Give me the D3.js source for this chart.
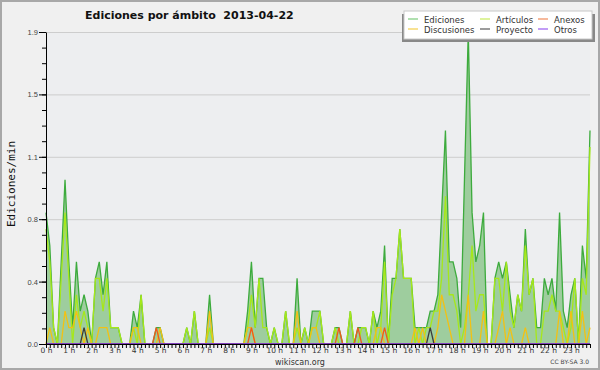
<!DOCTYPE html>
<html>
<head>
<meta charset="utf-8">
<script src="https://cdnjs.cloudflare.com/ajax/libs/d3/7.8.5/d3.min.js"></script>
<style>
body { margin: 0; background: #fff; }
svg { display: block; font-family: "DejaVu Sans", sans-serif; }
</style>
</head>
<body>
<svg width="600" height="370"></svg>
<script>
//edits per minute, one value every 10 minutes (0h00 .. 23h50), two hours per row
var ediciones = [
    0.8, 0.6, 0.1, 0.0, 0.5, 1.0,   0.5, 0.1, 0.5, 0.2, 0.3, 0.2,
    0.0, 0.4, 0.5, 0.3, 0.5, 0.1,   0.1, 0.1, 0.0, 0.0, 0.0, 0.2,
    0.1, 0.3, 0.0, 0.0, 0.0, 0.1,   0.1, 0.0, 0.0, 0.0, 0.0, 0.0,
    0.0, 0.1, 0.0, 0.2, 0.0, 0.0,   0.0, 0.3, 0.0, 0.0, 0.0, 0.0,
    0.0, 0.0, 0.0, 0.0, 0.0, 0.2,   0.5, 0.1, 0.4, 0.4, 0.1, 0.0,
    0.1, 0.0, 0.0, 0.2, 0.0, 0.0,   0.4, 0.0, 0.1, 0.0, 0.2, 0.2,
    0.2, 0.0, 0.0, 0.0, 0.1, 0.1,   0.0, 0.0, 0.2, 0.0, 0.1, 0.1,
    0.1, 0.0, 0.2, 0.1, 0.2, 0.6,   0.0, 0.4, 0.4, 0.7, 0.4, 0.4,
    0.4, 0.1, 0.1, 0.1, 0.1, 0.2,   0.2, 0.3, 0.8, 1.3, 0.5, 0.5,
    0.4, 0.1, 1.0, 1.9, 0.8, 0.5,   0.6, 0.8, 0.0, 0.0, 0.4, 0.5,
    0.4, 0.5, 0.3, 0.1, 0.3, 0.2,   0.7, 0.3, 0.4, 0.1, 0.1, 0.4,
    0.3, 0.4, 0.2, 0.8, 0.2, 0.1,   0.3, 0.4, 0.0, 0.6, 0.4, 1.3
];
var articulos = [
    0.7, 0.5, 0.1, 0.0, 0.4, 0.8,   0.4, 0.0, 0.3, 0.1, 0.2, 0.1,
    0.0, 0.4, 0.4, 0.2, 0.4, 0.1,   0.1, 0.1, 0.0, 0.0, 0.0, 0.1,
    0.0, 0.3, 0.0, 0.0, 0.0, 0.0,   0.0, 0.0, 0.0, 0.0, 0.0, 0.0,
    0.0, 0.1, 0.0, 0.2, 0.0, 0.0,   0.0, 0.1, 0.0, 0.0, 0.0, 0.0,
    0.0, 0.0, 0.0, 0.0, 0.0, 0.1,   0.3, 0.1, 0.4, 0.1, 0.1, 0.0,
    0.1, 0.0, 0.0, 0.2, 0.0, 0.0,   0.1, 0.0, 0.1, 0.0, 0.1, 0.1,
    0.2, 0.0, 0.0, 0.0, 0.1, 0.0,   0.0, 0.0, 0.2, 0.0, 0.0, 0.1,
    0.1, 0.0, 0.2, 0.0, 0.1, 0.5,   0.0, 0.3, 0.4, 0.7, 0.4, 0.4,
    0.4, 0.0, 0.1, 0.0, 0.1, 0.1,   0.2, 0.2, 0.4, 0.9, 0.3, 0.3,
    0.2, 0.0, 0.1, 0.3, 0.6, 0.2,   0.3, 0.3, 0.0, 0.0, 0.4, 0.4,
    0.2, 0.5, 0.2, 0.1, 0.3, 0.2,   0.6, 0.3, 0.4, 0.0, 0.0, 0.2,
    0.2, 0.3, 0.2, 0.2, 0.1, 0.0,   0.1, 0.4, 0.0, 0.4, 0.3, 1.2
];
var discusiones = [
    0.0, 0.1, 0.0, 0.0, 0.0, 0.2,   0.1, 0.1, 0.2, 0.1, 0.0, 0.1,
    0.0, 0.0, 0.1, 0.1, 0.1, 0.0,   0.0, 0.0, 0.0, 0.0, 0.0, 0.1,
    0.1, 0.0, 0.0, 0.0, 0.0, 0.0,   0.1, 0.0, 0.0, 0.0, 0.0, 0.0,
    0.0, 0.0, 0.0, 0.0, 0.0, 0.0,   0.0, 0.2, 0.0, 0.0, 0.0, 0.0,
    0.0, 0.0, 0.0, 0.0, 0.0, 0.1,   0.1, 0.0, 0.0, 0.0, 0.0, 0.0,
    0.0, 0.0, 0.0, 0.0, 0.0, 0.0,   0.2, 0.0, 0.0, 0.0, 0.1, 0.1,
    0.0, 0.0, 0.0, 0.0, 0.0, 0.0,   0.0, 0.0, 0.0, 0.0, 0.0, 0.0,
    0.0, 0.0, 0.0, 0.1, 0.1, 0.0,   0.0, 0.0, 0.0, 0.0, 0.0, 0.0,
    0.0, 0.1, 0.0, 0.1, 0.0, 0.0,   0.0, 0.1, 0.3, 0.2, 0.1, 0.0,
    0.0, 0.0, 0.0, 0.3, 0.0, 0.0,   0.0, 0.2, 0.0, 0.0, 0.0, 0.1,
    0.2, 0.0, 0.1, 0.0, 0.0, 0.0,   0.1, 0.0, 0.0, 0.0, 0.0, 0.0,
    0.0, 0.0, 0.0, 0.2, 0.0, 0.0,   0.2, 0.0, 0.0, 0.2, 0.0, 0.1
];
var anexos = [
    0.0, 0.0, 0.0, 0.0, 0.0, 0.0,   0.0, 0.0, 0.0, 0.0, 0.0, 0.0,
    0.0, 0.0, 0.0, 0.0, 0.0, 0.0,   0.0, 0.0, 0.0, 0.0, 0.0, 0.0,
    0.0, 0.0, 0.0, 0.0, 0.0, 0.1,   0.0, 0.0, 0.0, 0.0, 0.0, 0.0,
    0.0, 0.0, 0.0, 0.0, 0.0, 0.0,   0.0, 0.0, 0.0, 0.0, 0.0, 0.0,
    0.0, 0.0, 0.0, 0.0, 0.0, 0.0,   0.1, 0.0, 0.0, 0.0, 0.0, 0.0,
    0.0, 0.0, 0.0, 0.0, 0.0, 0.0,   0.0, 0.0, 0.0, 0.0, 0.0, 0.0,
    0.0, 0.0, 0.0, 0.0, 0.0, 0.1,   0.0, 0.0, 0.0, 0.0, 0.1, 0.0,
    0.0, 0.0, 0.0, 0.0, 0.0, 0.1,   0.0, 0.0, 0.0, 0.0, 0.0, 0.0,
    0.0, 0.0, 0.0, 0.0, 0.0, 0.0,   0.0, 0.0, 0.0, 0.0, 0.0, 0.0,
    0.0, 0.0, 0.0, 0.0, 0.0, 0.0,   0.0, 0.0, 0.0, 0.0, 0.0, 0.0,
    0.0, 0.0, 0.0, 0.0, 0.0, 0.0,   0.0, 0.0, 0.0, 0.0, 0.0, 0.0,
    0.0, 0.0, 0.0, 0.0, 0.0, 0.0,   0.0, 0.0, 0.0, 0.0, 0.0, 0.0
];
var proyecto = [
    0.0, 0.0, 0.0, 0.0, 0.0, 0.0,   0.0, 0.0, 0.0, 0.0, 0.1, 0.0,
    0.0, 0.0, 0.0, 0.0, 0.0, 0.0,   0.0, 0.0, 0.0, 0.0, 0.0, 0.0,
    0.0, 0.0, 0.0, 0.0, 0.0, 0.0,   0.0, 0.0, 0.0, 0.0, 0.0, 0.0,
    0.0, 0.0, 0.0, 0.0, 0.0, 0.0,   0.0, 0.0, 0.0, 0.0, 0.0, 0.0,
    0.0, 0.0, 0.0, 0.0, 0.0, 0.0,   0.0, 0.0, 0.0, 0.0, 0.0, 0.0,
    0.0, 0.0, 0.0, 0.0, 0.0, 0.0,   0.0, 0.0, 0.0, 0.0, 0.0, 0.0,
    0.0, 0.0, 0.0, 0.0, 0.0, 0.0,   0.0, 0.0, 0.0, 0.0, 0.0, 0.0,
    0.0, 0.0, 0.0, 0.0, 0.0, 0.0,   0.0, 0.0, 0.0, 0.0, 0.0, 0.0,
    0.0, 0.0, 0.0, 0.0, 0.0, 0.1,   0.0, 0.0, 0.0, 0.0, 0.0, 0.0,
    0.0, 0.0, 0.0, 0.0, 0.0, 0.0,   0.0, 0.0, 0.0, 0.0, 0.0, 0.0,
    0.0, 0.0, 0.0, 0.0, 0.0, 0.0,   0.0, 0.0, 0.0, 0.0, 0.0, 0.0,
    0.0, 0.0, 0.0, 0.0, 0.0, 0.0,   0.0, 0.0, 0.0, 0.0, 0.0, 0.0
];
var otros = d3.range(144).map(function(){ return 0; }); //no "otros" edits that day

var hourLabels = d3.range(24).map(function(h){ return h + ' h'; });
var yTickValues = [0, 0.38, 0.76, 1.14, 1.52, 1.9];

var series = [
    {name: 'Ediciones',   values: ediciones,   color: '#3dab3d', key: '#7ccb7c'},
    {name: 'Artículos',   values: articulos,   color: '#a6e81a', key: '#c9ec5c'},
    {name: 'Discusiones', values: discusiones, color: '#f2c114', key: '#f3cf4c'},
    {name: 'Anexos',      values: anexos,      color: '#ef5a1c', key: '#f08a5a'},
    {name: 'Proyecto',    values: proyecto,    color: '#3c3c3c', key: '#5a5a5a'},
    {name: 'Otros',       values: otros,       color: '#8a3ee8', key: '#9a5cf0'}
];

var svg = d3.select('svg');

//background + frame
svg.append('rect').attr('x', 1).attr('y', 1).attr('width', 598).attr('height', 368)
    .attr('fill', '#f0f0f0').attr('stroke', '#a8a8a8').attr('stroke-width', 2);

//plot box (don't call it "top": window.top is read only)
var plotLeft = 46, plotRight = 590, plotTop = 32, plotBottom = 344;

svg.append('rect').attr('x', plotLeft).attr('y', plotTop)
    .attr('width', plotRight - plotLeft).attr('height', plotBottom - plotTop)
    .attr('fill', '#edeef0');

var scaleX = d3.scaleLinear().domain([0, ediciones.length - 1]).range([plotLeft, plotRight]);
var scaleY = d3.scaleLinear().domain([0, 1.9]).range([plotBottom, plotTop]);

//horizontal grid lines
svg.append('g')
    .attr('transform', 'translate(' + plotLeft + ',0)')
    .call(d3.axisLeft(scaleY).tickValues(yTickValues).tickSize(-(plotRight - plotLeft)).tickFormat(''))
    .call(function(g){
        g.select('.domain').remove();
        g.selectAll('line').attr('stroke', '#cdcdcd');
    });

//filled area for the total
svg.append('path')
    .datum(ediciones)
    .attr('fill', '#9ecd9e')
    .attr('d', d3.area()
        .x(function(d, i){ return scaleX(i); })
        .y0(plotBottom)
        .y1(function(d){ return scaleY(d); }));

var line = d3.line()
    .x(function(d, i){ return scaleX(i); })
    .y(function(d){ return scaleY(d); });

series.forEach(function(s){
    svg.append('path')
        .datum(s.values)
        .attr('fill', 'none')
        .attr('stroke', s.color)
        .attr('stroke-width', 1.3)
        .attr('d', line);
});

//x axis: a tick every 10 minutes, label every hour
var xAxis = svg.append('g')
    .attr('transform', 'translate(0,' + plotBottom + ')')
    .call(d3.axisBottom(scaleX)
        .tickValues(d3.range(ediciones.length))
        .tickSize(4)
        .tickSizeOuter(0)
        .tickPadding(0)
        .tickFormat(function(i){ return i % 6 == 0 ? hourLabels[i / 6] : ''; }));
xAxis.select('.domain').attr('stroke', '#000');
xAxis.selectAll('line').attr('stroke', '#000');
xAxis.selectAll('text').attr('font-size', 7.5).attr('fill', '#333')
    .attr('font-family', '"DejaVu Sans", sans-serif');

//y axis with major + minor ticks
svg.append('g')
    .attr('transform', 'translate(' + plotLeft + ',0)')
    .call(d3.axisLeft(scaleY).tickValues(d3.range(0, 20).map(function(k){ return k * 0.095; }))
        .tickSize(4).tickSizeOuter(0).tickFormat(''))
    .call(function(g){ g.select('.domain').remove(); g.selectAll('line').attr('stroke', '#000'); });

var yAxis = svg.append('g')
    .attr('transform', 'translate(' + plotLeft + ',0)')
    .call(d3.axisLeft(scaleY).tickValues(yTickValues).tickSize(7).tickSizeOuter(0).tickPadding(1)
        .tickFormat(d3.format('.1f')));
yAxis.select('.domain').attr('stroke', '#000');
yAxis.selectAll('line').attr('stroke', '#000');
yAxis.selectAll('text').attr('font-size', 7.5).attr('fill', '#444')
    .attr('font-family', '"Liberation Sans", sans-serif');

//title and labels
svg.append('text')
    .text('Ediciones por ámbito  2013-04-22')
    .attr('x', 85).attr('y', 19)
    .style('white-space', 'pre')
    .attr('font-size', 11).attr('font-weight', 'bold').attr('fill', '#111');

svg.append('text')
    .text('Ediciones/min')
    .attr('transform', 'translate(15,184)rotate(270)')
    .style('text-anchor', 'middle')
    .attr('font-family', '"DejaVu Sans Mono", monospace')
    .attr('font-size', 11).attr('fill', '#111');

svg.append('text')
    .text('wikiscan.org')
    .attr('x', 300).attr('y', 365)
    .style('text-anchor', 'middle')
    .attr('font-size', 8).attr('fill', '#333');

svg.append('text')
    .text('CC BY-SA 3.0')
    .attr('x', 589).attr('y', 364)
    .style('text-anchor', 'end')
    .attr('font-size', 6).attr('fill', '#444');

//legend box with shadow
svg.append('rect').attr('x', 402).attr('y', 14).attr('width', 193).attr('height', 28).attr('fill', '#888');
svg.append('rect').attr('x', 404).attr('y', 11).attr('width', 188).attr('height', 28)
    .attr('fill', '#fff').attr('stroke', '#c8c8c8');

var legendCols = [408, 480, 538];
var legendRows = [19, 29];
var legendOrder = ['Ediciones', 'Discusiones', 'Artículos', 'Proyecto', 'Anexos', 'Otros'];

legendOrder.forEach(function(name, k){
    var s = series.find(function(d){ return d.name == name; });
    var lx = legendCols[Math.floor(k / 2)];
    var ly = legendRows[k % 2];
    svg.append('line')
        .attr('x1', lx).attr('x2', lx + 10).attr('y1', ly).attr('y2', ly)
        .attr('stroke', s.key).attr('stroke-width', 1.2);
    svg.append('text')
        .text(name)
        .attr('x', lx + 16).attr('y', ly + 3.5)
        .attr('font-size', 8.5).attr('fill', '#333');
});
</script>
</body>
</html>
